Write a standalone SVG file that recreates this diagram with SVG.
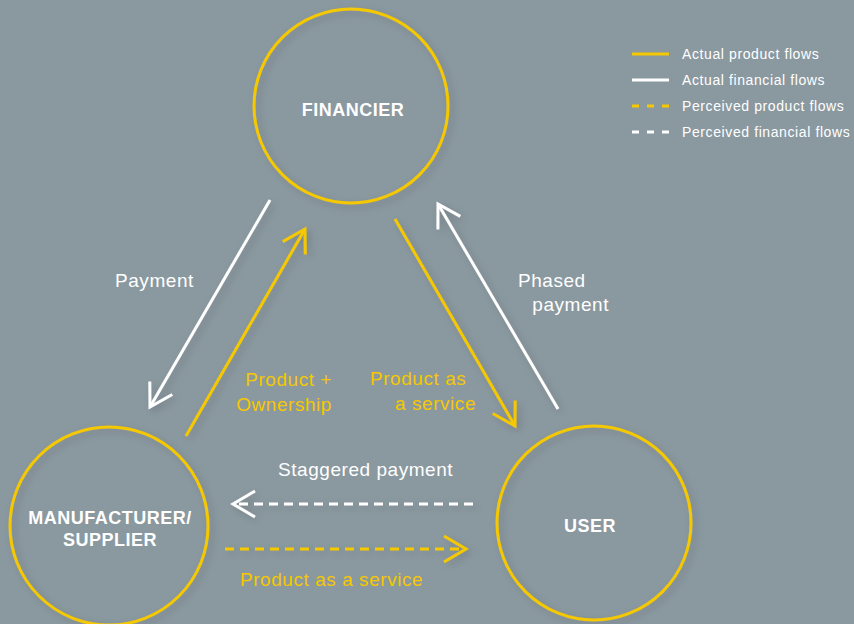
<svg xmlns="http://www.w3.org/2000/svg" width="854" height="624" viewBox="0 0 854 624">
<defs>
<style>
.bg{fill:#8a989f}
.node{fill:none;stroke:#f6c800;stroke-width:3}
.y{stroke:#f6c800;stroke-width:3;fill:none}
.w{stroke:#ffffff;stroke-width:3;fill:none}
.dash{stroke-dasharray:9 6}
.lbl{font-family:"Liberation Sans Narrow","Liberation Sans",Arial,sans-serif;font-size:19px;letter-spacing:0.55px}
.ty{fill:#f6c800}
.tw{fill:#ffffff}
.nt{font-family:"Liberation Sans Narrow","Liberation Sans",Arial,sans-serif;font-size:18px;font-weight:bold;fill:#ffffff;text-anchor:middle;letter-spacing:0.5px}
.lg{font-family:"Liberation Sans Narrow","Liberation Sans",Arial,sans-serif;font-size:14px;fill:#ffffff;letter-spacing:0.6px}
</style>
<marker id="ay" markerUnits="userSpaceOnUse" markerWidth="32" markerHeight="32" viewBox="-28 -16 32 32" refX="0" refY="0" orient="auto">
<path d="M-22,-13 L0,0 L-22,13" fill="none" stroke="#f6c800" stroke-width="3"/>
</marker>
<marker id="aw" markerUnits="userSpaceOnUse" markerWidth="32" markerHeight="32" viewBox="-28 -16 32 32" refX="0" refY="0" orient="auto">
<path d="M-22,-13 L0,0 L-22,13" fill="none" stroke="#ffffff" stroke-width="3"/>
</marker>
<filter id="sh" x="-20%" y="-20%" width="140%" height="140%">
<feGaussianBlur in="SourceAlpha" stdDeviation="4"/>
<feOffset dx="3" dy="3"/>
<feComponentTransfer><feFuncA type="linear" slope="0.18"/></feComponentTransfer>
<feMerge><feMergeNode/><feMergeNode in="SourceGraphic"/></feMerge>
</filter>
</defs>
<rect class="bg" x="0" y="0" width="854" height="624"/>

<g id="connectors" filter="url(#sh)">
<line class="w" x1="270" y1="200" x2="150" y2="407" marker-end="url(#aw)"/>
<line class="y" x1="186" y1="436" x2="305" y2="229" marker-end="url(#ay)"/>
<line class="y" x1="395" y1="219" x2="515" y2="426" marker-end="url(#ay)"/>
<line class="w" x1="558" y1="409" x2="438" y2="204" marker-end="url(#aw)"/>
<line class="w dash" x1="473" y1="504" x2="233" y2="504" marker-end="url(#aw)"/>
<line class="y dash" x1="225" y1="549" x2="466" y2="549" marker-end="url(#ay)"/>
</g>

<g id="financier">
<circle class="node" cx="351" cy="106" r="97" filter="url(#sh)"/>
<text class="nt" x="353" y="116">FINANCIER</text>
</g>
<g id="manufacturer">
<circle class="node" cx="109" cy="526" r="99" filter="url(#sh)"/>
<text class="nt" x="110" y="524">MANUFACTURER/</text>
<text class="nt" x="110" y="546">SUPPLIER</text>
</g>
<g id="user">
<circle class="node" cx="594" cy="523" r="97" filter="url(#sh)"/>
<text class="nt" x="590" y="532">USER</text>
</g>

<g id="labels">
<text class="lbl tw" x="115" y="287">Payment</text>
<text class="lbl ty" x="332" y="386" text-anchor="end">Product +</text>
<text class="lbl ty" x="332" y="411" text-anchor="end">Ownership</text>
<text class="lbl ty" x="370" y="385">Product as</text>
<text class="lbl ty" x="476" y="410" text-anchor="end">a service</text>
<text class="lbl tw" x="518" y="287">Phased</text>
<text class="lbl tw" x="609" y="311" text-anchor="end">payment</text>
<text class="lbl tw" x="278" y="476">Staggered payment</text>
<text class="lbl ty" x="240" y="586">Product as a service</text>
</g>

<g id="legend">
<line class="y" x1="632" y1="54" x2="669" y2="54"/>
<line class="w" x1="632" y1="80" x2="669" y2="80"/>
<line class="y" x1="632" y1="106" x2="669" y2="106" stroke-dasharray="7 8"/>
<line class="w" x1="632" y1="132" x2="669" y2="132" stroke-dasharray="7 8"/>
<text class="lg" x="682" y="59">Actual product flows</text>
<text class="lg" x="682" y="85">Actual financial flows</text>
<text class="lg" x="682" y="111">Perceived product flows</text>
<text class="lg" x="682" y="137">Perceived financial flows</text>
</g>
</svg>
